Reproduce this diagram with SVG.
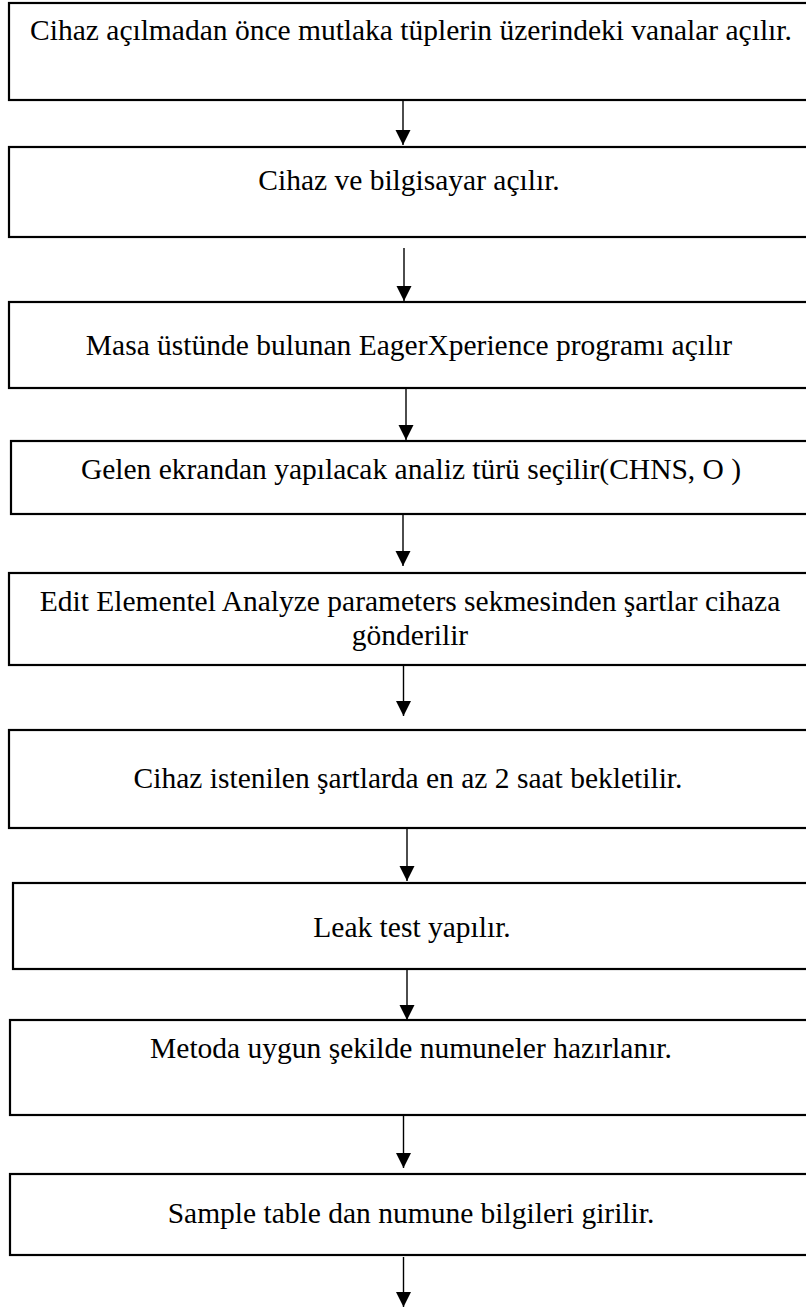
<svg xmlns="http://www.w3.org/2000/svg" width="806" height="1308" viewBox="0 0 806 1308">
<style>
.box{fill:#fff;stroke:#000;stroke-width:2.2}
.lbl{font-family:"Liberation Serif","Times New Roman",serif;font-size:29.5px;fill:#000;text-anchor:middle}
.conn{stroke:#000;stroke-width:1.4;fill:none;marker-end:url(#ah)}
</style>
<defs>
<marker id="ah" markerUnits="userSpaceOnUse" markerWidth="16" markerHeight="16" refX="15" refY="7.5" orient="auto">
<path d="M0,0 L15,7.5 L0,15 z" fill="#000"/>
</marker>
</defs>
<rect width="806" height="1308" fill="#fff"/>
<g id="n1"><rect class="box" x="9" y="3" width="815" height="97"/><text class="lbl" x="411" y="40">Cihaz açılmadan önce mutlaka tüplerin üzerindeki vanalar açılır.</text></g>
<g id="n2"><rect class="box" x="9" y="147" width="815" height="90"/><text class="lbl" x="409" y="190">Cihaz ve bilgisayar açılır.</text></g>
<g id="n3"><rect class="box" x="9" y="302" width="815" height="86"/><text class="lbl" x="409" y="355">Masa üstünde bulunan EagerXperience programı açılır</text></g>
<g id="n4"><rect class="box" x="11" y="441" width="815" height="73"/><text class="lbl" x="411" y="479">Gelen ekrandan yapılacak analiz türü seçilir(CHNS, O )</text></g>
<g id="n5"><rect class="box" x="9" y="573" width="815" height="92"/><text class="lbl" x="410" y="611">Edit Elementel Analyze parameters sekmesinden şartlar cihaza</text><text class="lbl" x="410" y="645">gönderilir</text></g>
<g id="n6"><rect class="box" x="9" y="730" width="815" height="98"/><text class="lbl" x="408" y="788">Cihaz istenilen şartlarda en az 2 saat bekletilir.</text></g>
<g id="n7"><rect class="box" x="13" y="883" width="815" height="86"/><text class="lbl" x="412" y="937">Leak test yapılır.</text></g>
<g id="n8"><rect class="box" x="10" y="1020" width="815" height="95"/><text class="lbl" x="411" y="1058">Metoda uygun şekilde numuneler hazırlanır.</text></g>
<g id="n9"><rect class="box" x="10" y="1174" width="815" height="81"/><text class="lbl" x="411" y="1223">Sample table dan numune bilgileri girilir.</text></g>
<g id="connectors">
<line class="conn" x1="403" y1="101" x2="403" y2="145"/>
<line class="conn" x1="404" y1="248" x2="404" y2="301"/>
<line class="conn" x1="406" y1="389" x2="406" y2="440"/>
<line class="conn" x1="403" y1="515" x2="403" y2="566"/>
<line class="conn" x1="403.5" y1="666" x2="403.5" y2="716"/>
<line class="conn" x1="407" y1="829" x2="407" y2="881"/>
<line class="conn" x1="407" y1="968" x2="407" y2="1020"/>
<line class="conn" x1="403.5" y1="1116" x2="403.5" y2="1168"/>
<line class="conn" x1="403.5" y1="1257" x2="403.5" y2="1307"/>
</g>
</svg>
